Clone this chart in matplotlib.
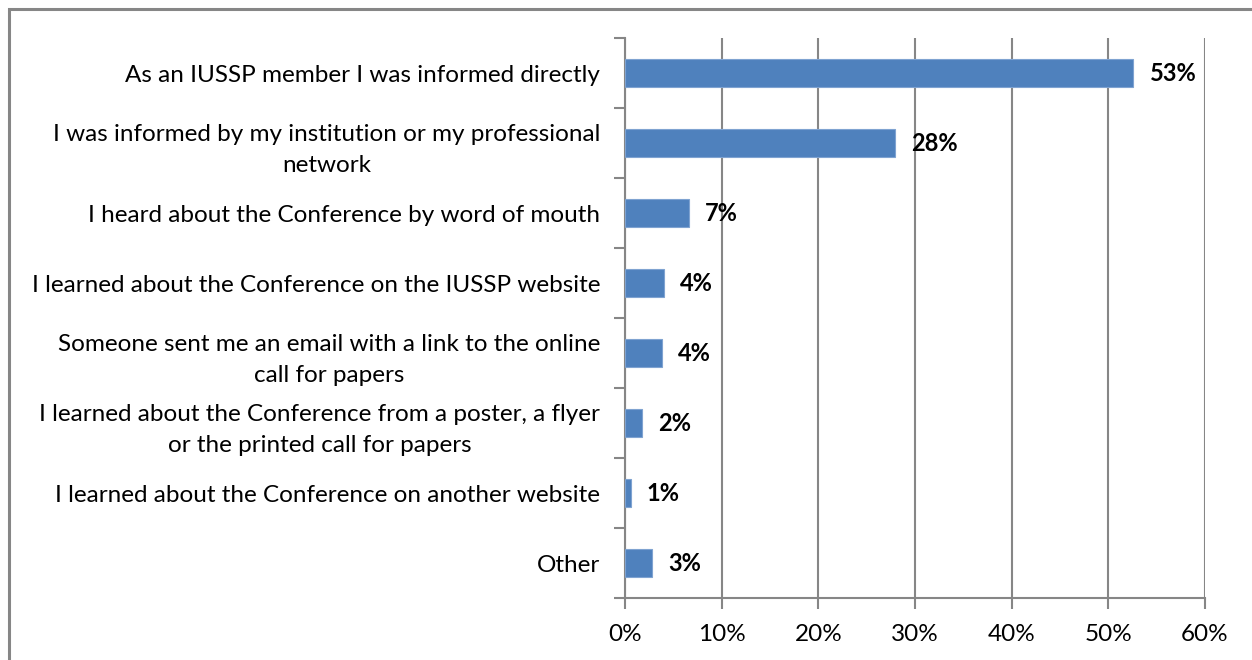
import matplotlib
matplotlib.use("Agg")
import matplotlib.pyplot as plt
from matplotlib.patches import Rectangle
from matplotlib.ticker import FixedLocator, PercentFormatter

plt.rcParams['font.family'] = ['Lato', 'DejaVu Sans']

categories = [
    "As an IUSSP member I was informed directly",
    "I was informed by my institution or my professional\nnetwork",
    "I heard about the Conference by word of mouth",
    "I learned about the Conference on the IUSSP website",
    "Someone sent me an email with a link to the online\ncall for papers",
    "I learned about the Conference from a poster, a flyer\nor the printed call for papers",
    "I learned about the Conference on another website",
    "Other",
]
shares = [52.6, 27.9, 6.6, 4.0, 3.8, 1.8, 0.6, 2.8]
x_ticks = [0, 10, 20, 30, 40, 50, 60]

W, H = 1252, 660
fig = plt.figure(figsize=(W / 100, H / 100), dpi=100)
fig.patch.set_facecolor("white")

# outer chart frame (open on right and bottom)
fig.add_artist(Rectangle((8.5 / W, -0.1), 1.2, 1 - 8.5 / H + 0.1,
                         transform=fig.transFigure, fill=False,
                         edgecolor="#868686", linewidth=2.2))

ax = fig.add_axes([625 / W, 1 - 598 / H, (1205 - 625) / W, (598 - 38) / H])

grid_c = "#868686"
y = list(range(len(categories)))
ax.barh(y, shares, height=0.4, color="#4F81BD", edgecolor="#7FA3D1",
        linewidth=0.8, zorder=3)

for yi, v in zip(y, shares):
    ax.annotate(f"{int(v + 0.5)}%", (v, yi), xytext=(11.5, -0.5),
                textcoords="offset points", ha="left", va="center",
                fontsize=17, fontweight="bold", color="black")

ax.set_xlim(0, 60)
ax.set_ylim(len(categories) - 0.5, -0.5)
ax.xaxis.set_major_locator(FixedLocator(x_ticks))
ax.xaxis.set_major_formatter(PercentFormatter(decimals=0))
ax.grid(axis="x", color=grid_c, linewidth=1.5, zorder=0)

ax.set_yticks(y)
ax.set_yticklabels(categories, fontsize=17.5, multialignment="center",
                   linespacing=1.6)
ax.set_yticks([i - 0.5 for i in range(len(categories) + 1)], minor=True)
ax.tick_params(axis="y", which="major", length=0, pad=18)
ax.tick_params(axis="y", which="minor", length=8, width=1.5, color=grid_c,
               direction="out")
ax.tick_params(axis="x", length=8, width=1.5, color=grid_c, labelsize=17.5,
               pad=10.5)

for side in ("top", "right"):
    ax.spines[side].set_visible(False)
for side in ("left", "bottom"):
    ax.spines[side].set_color(grid_c)
    ax.spines[side].set_linewidth(1.5)

fig.savefig("out.png", dpi=100, facecolor="white")
